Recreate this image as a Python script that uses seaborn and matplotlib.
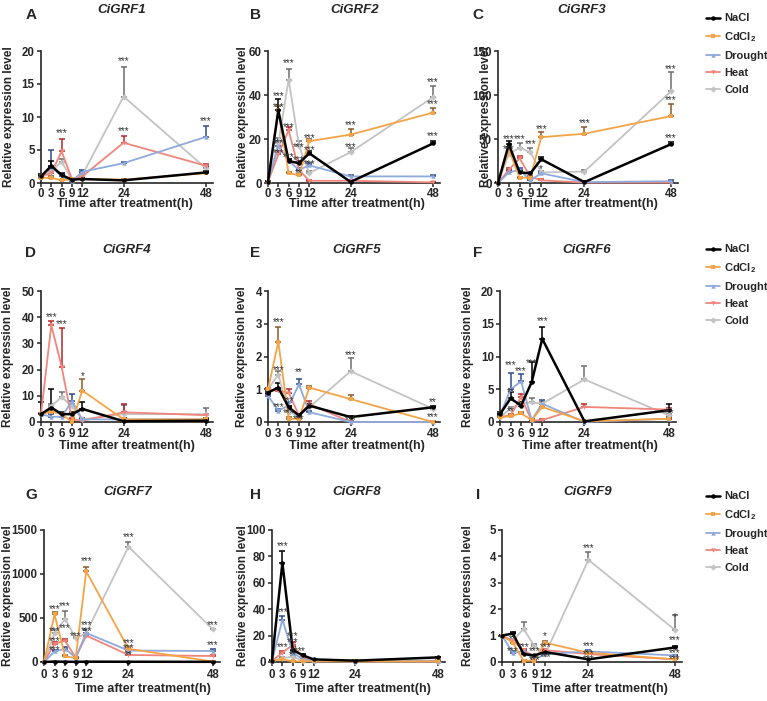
import matplotlib
matplotlib.use('Agg')
import matplotlib.pyplot as plt
from matplotlib.lines import Line2D
import seaborn as sns

# ==========================================
# 1. data
# ==========================================
times = [0, 3, 6, 9, 12, 24, 48]
treatments = ['NaCl', 'CdCl2', 'Drought', 'Heat', 'Cold']
legend_labels = ['NaCl', r'CdCl$_\mathbf{2}$', 'Drought', 'Heat', 'Cold']

grf1 = {'NaCl': [1.0, 2.6, 1.2, 0.5, 0.6, 0.4, 1.6],
        'CdCl2': [0.8, 0.8, 0.4, 0.6, 0.6, 0.5, 1.5],
        'Drought': [1.0, 2.5, 1.0, 0.3, 1.7, 3.0, 7.0],
        'Heat': [1.0, 1.5, 4.8, 0.6, 1.0, 6.1, 2.6],
        'Cold': [1.0, 1.8, 3.2, 0.5, 1.2, 13.1, 2.2]}
grf1_err = {'NaCl': [0.3, 0.8, 0.3, 0.1, 0.1, 0.1, 0.2],
            'CdCl2': [0.2, 0.2, 0.1, 0.1, 0.1, 0.1, 0.2],
            'Drought': [0.2, 2.5, 0.3, 0.1, 0.2, 0.2, 1.7],
            'Heat': [0.2, 0.5, 1.8, 0.2, 0.2, 1.0, 0.3],
            'Cold': [0.2, 0.4, 0.4, 0.2, 0.3, 4.5, 0.3]}
grf1_stars = [(6, 7.5, '***'), (24, 18.4, '***'), (24, 7.9, '***'), (48, 9.4, '***')]

grf2 = {'NaCl': [0.5, 33, 10, 9, 13.5, 0.5, 18],
        'CdCl2': [0.5, 33, 4.5, 3.5, 19, 22, 32],
        'Drought': [0.5, 17, 10, 6, 8, 3, 3],
        'Heat': [0.5, 13, 24, 6, 1, 1, 0.3],
        'Cold': [0.5, 18, 47, 17, 4.5, 14, 39]}
grf2_err = {'NaCl': [0.5, 5, 1, 1, 1, 0.5, 1.2],
            'CdCl2': [0.5, 2, 0.5, 0.5, 1, 2.5, 2],
            'Drought': [0.5, 2, 1, 1, 1, 0.5, 0.5],
            'Heat': [0.5, 1.5, 1.5, 1, 0.5, 0.5, 0.3],
            'Cold': [0.5, 2.5, 5, 2, 1, 2, 5]}
grf2_stars = [(3, 39.5, '***'), (3, 34.5, '***'), (3, 18.2, '***'), (3, 13.7, '***'),
              (6, 54.7, '***'), (6, 25.4, '***'), (6, 11.7, '***'),
              (9, 16.4, '***'), (9, 10.2, '***'), (9, 4.6, '**'),
              (12, 20.5, '***'), (12, 14.9, '***'), (12, 8.7, '***'),
              (24, 26.3, '***'), (24, 16.4, '***'),
              (48, 45.9, '***'), (48, 36, '***'), (48, 21.3, '***')]

grf3 = {'NaCl': [0, 44, 12, 11, 27, 1, 44],
        'CdCl2': [0, 38, 6, 6, 52, 56, 76],
        'Drought': [0, 12, 15, 3, 11, 1, 2],
        'Heat': [0, 15, 28, 7, 3, 0.5, 0.5],
        'Cold': [0, 33, 40, 35, 12, 13, 104]}
grf3_err = {'NaCl': [1, 4, 2, 2, 3, 1, 3],
            'CdCl2': [1, 3, 1, 1, 6, 8, 14],
            'Drought': [1, 3, 2, 1, 2, 1, 1],
            'Heat': [1, 2, 3, 1, 1, 0.5, 0.5],
            'Cold': [1, 4, 5, 5, 2, 2, 22]}
grf3_stars = [(3, 50, '***'), (3, 38, '***'), (6, 50, '***'), (9, 43.7, '***'),
              (12, 61, '***'), (12, 16, '*'), (24, 68.5, '***'),
              (48, 130, '***'), (48, 94.4, '***'), (48, 51, '***')]

grf4 = {'NaCl': [3, 5.5, 3, 3, 5, 0.3, 0.5],
        'CdCl2': [3, 4, 3, 0, 12, 1, 1],
        'Drought': [3, 2, 2, 8, 1, 1, 1],
        'Heat': [3, 37, 21, 1, 0.5, 3.7, 2.6],
        'Cold': [3, 6, 9.5, 6, 1, 3, 3]}
grf4_err = {'NaCl': [4.5, 7, 1, 1, 2.5, 0.5, 0.5],
            'CdCl2': [0.5, 1, 0.5, 0.5, 4.5, 0.5, 0.5],
            'Drought': [0.5, 1, 1, 2.5, 0.5, 0.5, 0.5],
            'Heat': [0.5, 1.5, 15, 0.5, 0.5, 3, 0.5],
            'Cold': [0.5, 1, 2, 1, 0.5, 3.5, 2.5]}
grf4_stars = [(3, 40.1, '***'), (6, 37.2, '***'), (12, 17.5, '*')]

grf5 = {'NaCl': [0.9, 1.05, 0.45, 0.2, 0.5, 0.15, 0.45],
        'CdCl2': [1.0, 2.45, 0.1, 0.1, 1.05, 0.7, 0.0],
        'Drought': [0.8, 0.35, 0.5, 1.15, 0.3, 0.0, 0.0],
        'Heat': [1.0, 0.95, 0.9, 0.2, 0.55, 0.0, 0.0],
        'Cold': [1.0, 1.45, 0.3, 0.2, 0.45, 1.55, 0.4]}
grf5_err = {'NaCl': [0.05, 0.15, 0.05, 0.05, 0.05, 0.03, 0.05],
            'CdCl2': [0.05, 0.45, 0.05, 0.05, 0.06, 0.12, 0.02],
            'Drought': [0.05, 0.05, 0.1, 0.15, 0.05, 0.02, 0.02],
            'Heat': [0.05, 0.05, 0.1, 0.05, 0.08, 0.02, 0.02],
            'Cold': [0.05, 0.1, 0.05, 0.05, 0.05, 0.4, 0.05]}
grf5_stars = [(3, 3.05, '***'), (3, 1.6, '***'), (3, 0.45, '***'),
              (6, 0.64, '***'), (6, 0.28, '***'), (9, 1.53, '**'), (9, 0.1, '***'),
              (12, 0.5, '*'), (24, 2.03, '***'), (24, 0.05, '***'),
              (48, 0.6, '**'), (48, 0.15, '***')]

grf6 = {'NaCl': [1.2, 3.6, 2.5, 6.1, 12.7, 0.1, 1.8],
        'CdCl2': [0.7, 0.9, 1.3, 0.3, 2.3, 0.1, 0.5],
        'Drought': [1.0, 5.0, 6.2, 0.3, 2.8, 0.0, 0.5],
        'Heat': [0.8, 1.0, 3.8, 0.2, 0.3, 2.3, 1.9],
        'Cold': [0.8, 2.0, 2.8, 3.0, 2.8, 6.5, 1.0]}
grf6_err = {'NaCl': [0.3, 1, 0.6, 3, 1.8, 0.1, 1],
            'CdCl2': [0.1, 0.2, 0.2, 0.1, 0.4, 0.1, 0.1],
            'Drought': [0.2, 2.5, 1.2, 0.1, 0.5, 0.1, 0.2],
            'Heat': [0.1, 0.2, 0.5, 0.1, 0.1, 0.4, 0.3],
            'Cold': [0.1, 0.3, 0.3, 0.7, 0.3, 2, 0.2]}
grf6_stars = [(3, 8.75, '***'), (3, 4.6, '**'), (3, 1.6, '**'), (6, 7.85, '***'),
              (9, 9.0, '***'), (12, 15.35, '***'), (48, 1.3, '***')]

grf7 = {'NaCl': [1, 5, 3, 2, 4, 3, 2],
        'CdCl2': [0, 540, 65, 45, 1030, 150, 5],
        'Drought': [0, 120, 150, 50, 330, 130, 125],
        'Heat': [0, 210, 240, 50, 300, 80, 68],
        'Cold': [0, 330, 490, 270, 330, 1310, 370]}
grf7_err = {'NaCl': [0, 0, 0, 0, 0, 0, 0],
            'CdCl2': [0, 25, 10, 5, 55, 15, 2],
            'Drought': [0, 15, 15, 5, 30, 15, 25],
            'Heat': [0, 15, 20, 5, 20, 10, 10],
            'Cold': [0, 30, 90, 20, 30, 50, 10]}
grf7_stars = [(3, 600, '***'), (6, 630, '***'), (3, 355, '***'), (3, 240, '***'),
              (3, 130, '***'), (6, 385, '***'), (9, 300, '***'), (12, 415, '***'),
              (12, 355, '***'), (12, 1147, '***'), (24, 1420, '***'), (24, 215, '***'),
              (24, 158, '***'), (24, 83, '**'), (48, 415, '***'), (48, 190, '***')]

grf8 = {'NaCl': [1, 75, 9, 5, 2, 1, 3.5],
        'CdCl2': [1, 2, 0.5, 0.5, 0.5, 0.5, 0.5],
        'Drought': [1, 32, 7, 2, 1, 1, 1],
        'Heat': [1, 7, 13, 3, 1, 0.5, 0.5],
        'Cold': [1, 3, 4, 1, 0.5, 0.3, 0.3]}
grf8_err = {'NaCl': [0.3, 9, 2, 1, 0.5, 0.3, 0.5],
            'CdCl2': [0.2, 0.2, 0.2, 0.2, 0.2, 0.2, 0.2],
            'Drought': [0.2, 3, 1.5, 0.5, 0.3, 0.2, 0.2],
            'Heat': [0.2, 1, 2, 0.5, 0.2, 0.1, 0.1],
            'Cold': [0.2, 0.5, 0.5, 0.3, 0.1, 0.1, 0.1]}
grf8_stars = [(3, 88, '***'), (3, 38, '***'), (3, 11, '***'), (6, 20, '***'),
              (6, 15, '***'), (7, 8.5, '***'), (9, 8.5, '*'), (6, 5.5, '**')]

grf9 = {'NaCl': [1.0, 1.08, 0.3, 0.25, 0.38, 0.1, 0.55],
        'CdCl2': [1.0, 0.73, 0.05, 0.05, 0.73, 0.35, 0.1],
        'Drought': [1.0, 0.35, 0.4, 0.1, 0.3, 0.4, 0.25],
        'Heat': [1.0, 0.8, 0.45, 0.2, 0.45, 0.3, 0.1],
        'Cold': [1.0, 0.8, 1.26, 0.6, 0.3, 3.87, 1.22]}
grf9_err = {'NaCl': [0.03, 0.05, 0.03, 0.03, 0.05, 0.03, 0.05],
            'CdCl2': [0.03, 0.05, 0.02, 0.02, 0.08, 0.05, 0.02],
            'Drought': [0.03, 0.05, 0.05, 0.03, 0.05, 0.05, 0.03],
            'Heat': [0.03, 0.05, 0.05, 0.03, 0.05, 0.03, 0.02],
            'Cold': [0.03, 0.05, 0.25, 0.1, 0.05, 0.3, 0.55]}
grf9_stars = [(3, 0.85, '**'), (3, 0.4, '***'), (6, 0.55, '***'), (9, 0.4, '***'),
              (9, 0.08, '***'), (12, 1.0, '*'), (12, 0.55, '***'), (12, 0.2, '***'),
              (24, 4.3, '***'), (24, 0.6, '***'), (24, 0.3, '***'), (24, 0.1, '***'),
              (48, 1.7, '*'), (48, 0.82, '***'), (48, 0.35, '***'), (48, 0.1, '***')]

# ==========================================
# 2. style
# ==========================================
sns.set_style('ticks')
plt.rcParams['font.family'] = ['Liberation Sans', 'DejaVu Sans']
plt.rcParams['font.weight'] = 'bold'
plt.rcParams['mathtext.fontset'] = 'custom'
plt.rcParams['mathtext.bf'] = 'Liberation Sans:bold'
plt.rcParams['mathtext.rm'] = 'Liberation Sans:bold'

colors = {'NaCl': '#000000', 'CdCl2': '#F4A447', 'Drought': '#8EA9DB',
          'Heat': '#F0857C', 'Cold': '#C3C3C3'}
err_colors = {'NaCl': '#000000', 'CdCl2': '#8A5A2A', 'Drought': '#2F4C8C',
              'Heat': '#B5282A', 'Cold': '#6E6E6E'}
markers = {'NaCl': 'o', 'CdCl2': 's', 'Drought': '^', 'Heat': 'v', 'Cold': 'D'}
widths = {'NaCl': 1.8, 'CdCl2': 1.3, 'Drought': 1.3, 'Heat': 1.3, 'Cold': 1.3}
draw_order = ['Cold', 'Heat', 'Drought', 'CdCl2', 'NaCl']

W, H = 767, 701
fig = plt.figure(figsize=(W / 100, H / 100), dpi=100)

def fx(x):
    return x / W

def fy(y):
    return 1 - y / H

panels = [
    ('A', 'CiGRF1', grf1, grf1_err, grf1_stars, 20, 5),
    ('B', 'CiGRF2', grf2, grf2_err, grf2_stars, 60, 20),
    ('C', 'CiGRF3', grf3, grf3_err, grf3_stars, 150, 50),
    ('D', 'CiGRF4', grf4, grf4_err, grf4_stars, 50, 10),
    ('E', 'CiGRF5', grf5, grf5_err, grf5_stars, 4, 1),
    ('F', 'CiGRF6', grf6, grf6_err, grf6_stars, 20, 5),
    ('G', 'CiGRF7', grf7, grf7_err, grf7_stars, 1500, 500),
    ('H', 'CiGRF8', grf8, grf8_err, grf8_stars, 100, 20),
    ('I', 'CiGRF9', grf9, grf9_err, grf9_stars, 5, 1),
]

# layout in pixels
ax_left = [[41, 268, 498], [41, 268, 500], [44, 272, 502]]
ax_width = [[172, 172, 180], [172, 172, 176], [176, 173, 180]]
row_top = [51, 291, 530]
row_bot = [183, 422, 662]
letter_x = [31, 255, 478]
letter_y = [15, 253, 495]
title_x = [[122, 355, 582], [127, 357, 587], [128, 357, 588]]
title_y = [10, 250, 492]
ylab_x = [[9, 243, 486], [8, 242, 468], [8, 243, 468]]
xlab_x = [[125, 357, 590], [127, 357, 590], [143, 363, 600]]
xlab_y = [204, 446, 689]
tick_pad = [0.5, 1.0, 2.0]
legend_top = [9, 240, 487]

# ==========================================
# 3. draw
# ==========================================
for i, (letter, gene, vals, errs, stars, ymax, ystep) in enumerate(panels):
    r, c = divmod(i, 3)
    left, top, bot = ax_left[r][c], row_top[r], row_bot[r]
    ax = fig.add_axes([fx(left), fy(bot), ax_width[r][c] / W, (bot - top) / H])

    for t in draw_order:
        ax.errorbar(times, vals[t], yerr=[[0] * 7, errs[t]], fmt='none',
                    ecolor=err_colors[t], elinewidth=1.1, capsize=2, capthick=1.1,
                    clip_on=False, zorder=2)
        sns.lineplot(x=times, y=vals[t], color=colors[t], marker=markers[t],
                     markersize=3.2, markeredgewidth=0, linewidth=widths[t],
                     ax=ax, clip_on=False, legend=False, zorder=3)

    for sx, sy, s in stars:
        ax.text(sx, sy, s, ha='center', va='center', fontsize=7,
                fontweight='normal', color='#333333', zorder=5)

    ax.set_xlim(0, 50)
    ax.set_ylim(0, ymax)
    ax.set_xticks(times)
    ax.set_yticks(range(0, ymax + 1, ystep))
    ax.tick_params(axis='both', direction='out', length=3, width=1.1,
                   labelsize=8.3, pad=1.5)
    ax.tick_params(axis='x', pad=tick_pad[r])
    for lab in ax.get_xticklabels() + ax.get_yticklabels():
        lab.set_fontweight('bold')
    sns.despine(ax=ax)
    for sp in ['left', 'bottom']:
        ax.spines[sp].set_linewidth(1.2)
    ax.set_xlabel('')
    ax.set_ylabel('')

    fig.text(fx(letter_x[c]), fy(letter_y[r]), letter, fontsize=11,
             fontweight='bold', ha='center', va='center')
    fig.text(fx(title_x[r][c]), fy(title_y[r]), gene, fontsize=9.5,
             fontweight='bold', style='italic', ha='center', va='center')
    fig.text(fx(ylab_x[r][c]), fy((top + bot) / 2), 'Relative expression level',
             fontsize=8.5, fontweight='bold', rotation=90, ha='center', va='center')
    fig.text(fx(xlab_x[r][c]), fy(xlab_y[r]), 'Time after treatment(h)',
             fontsize=9, fontweight='bold', ha='center', va='center')

# legends, one per row, right of the third column
handles = [Line2D([0], [0], color=colors[t], marker=markers[t], markersize=3.2,
                  markeredgewidth=0, linewidth=widths[t]) for t in treatments]
for r in range(3):
    fig.legend(handles, legend_labels, loc='upper left',
               bbox_to_anchor=(fx(702), fy(legend_top[r])), frameon=False,
               handlelength=1.25, handletextpad=0.35, labelspacing=0.62,
               prop={'size': 8, 'weight': 'bold'}, borderaxespad=0)

fig.savefig('out.png', dpi=100)
